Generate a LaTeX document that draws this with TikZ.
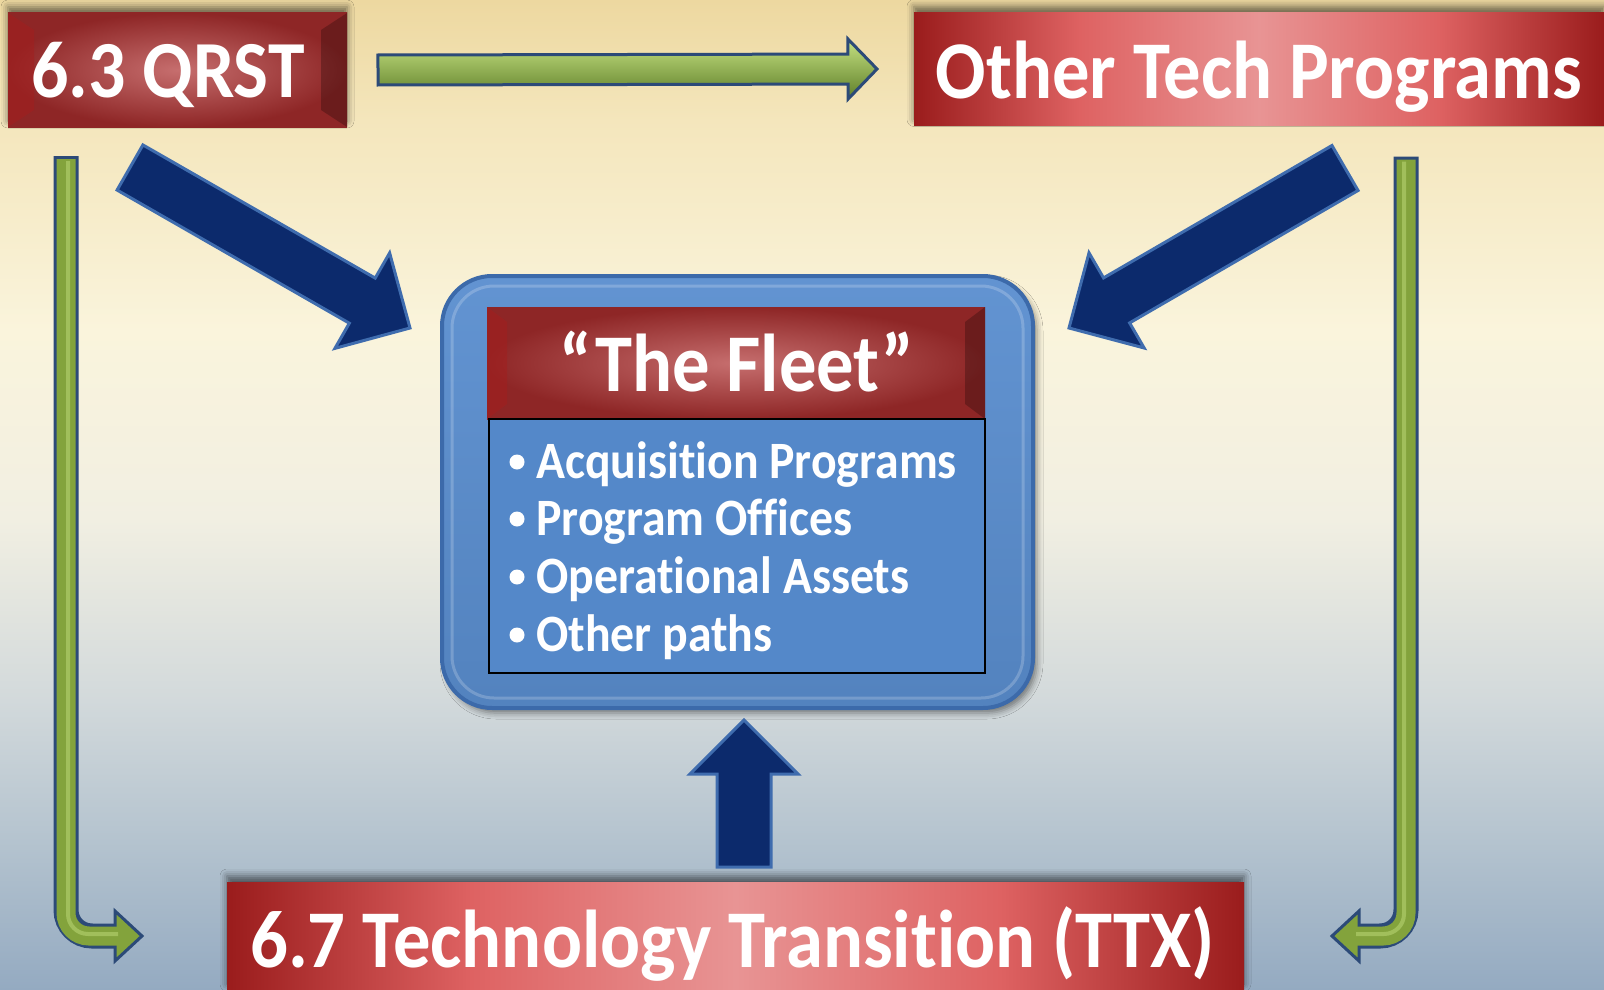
\documentclass[tikz,border=0pt]{standalone}
\usepackage{fontspec}
\setmainfont{Carlito}[FakeStretch=0.91, Ligatures={NoCommon,NoRare,NoContextual}]
\usetikzlibrary{calc,shadows.blur}
\definecolor{bgA}{HTML}{EDD8A0}
\definecolor{bgB}{HTML}{F4E6BC}
\definecolor{bgC}{HTML}{FAF4DC}
\definecolor{bgD}{HTML}{F1EFE2}
\definecolor{bgE}{HTML}{D2D9DB}
\definecolor{bgF}{HTML}{B0C0CD}
\definecolor{bgG}{HTML}{94AAC1}
\definecolor{redE}{HTML}{9A1C1C}
\definecolor{redM}{HTML}{DE6262}
\definecolor{redC}{HTML}{E89494}
\definecolor{bevC}{HTML}{C66E6E}
\definecolor{bevE}{HTML}{8E2626}
\definecolor{navy}{HTML}{0C2A6C}
\definecolor{navyEdge}{HTML}{3F6CAE}
\definecolor{gA}{HTML}{83A33C}
\definecolor{gB}{HTML}{C6E282}
\definecolor{gC}{HTML}{5E7E28}
\definecolor{gEdge}{HTML}{2C4A78}
\definecolor{fleetFrame}{HTML}{5A8ECF}
\definecolor{fleetEdge}{HTML}{3C6AAA}
\definecolor{fleetList}{HTML}{5488C9}
\pgfdeclarehorizontalshading{redbar}{100bp}{color(0bp)=(redE); color(25bp)=(redE); color(37bp)=(redM); color(50bp)=(redC); color(63bp)=(redM); color(75bp)=(redE); color(100bp)=(redE)}
\newcommand\blockarr[6]{%
  \coordinate (#2-hb) at ($(#3)!#6!(#2)$);
  \path[#1] ($(#2)!#4!90:(#3)$) -- ($(#2-hb)!#4!90:(#3)$) -- ($(#2-hb)!#5!90:(#3)$) -- (#3)
    -- ($(#2-hb)!#5!-90:(#3)$) -- ($(#2-hb)!#4!-90:(#3)$) -- ($(#2)!#4!-90:(#3)$) -- cycle;}
\begin{document}
\begin{tikzpicture}[x=1pt,y=-1pt,
  redbar/.style={shading=redbar, inner sep=0pt, outer sep=0pt,
    blur shadow={shadow xshift=0pt, shadow yshift=6pt, shadow blur radius=7pt, shadow opacity=55}},
  bevbox/.style={inner color=bevC, outer color=bevE, inner sep=0pt, outer sep=0pt},
  bigtxt/.style={text=white, inner sep=0pt, anchor=base, font=\bfseries\fontsize{#1}{#1}\selectfont},
  listtxt/.style={text=white, inner sep=0pt, anchor=base west, font=\bfseries\fontsize{52.5}{52.5}\selectfont},
  bluearr/.style={fill=navy, draw=navyEdge, line width=3pt, line join=miter},
  greenarr/.style={top color=gB, middle color=gA, bottom color=gC, draw=gEdge, line width=3pt, line join=miter}]
\useasboundingbox (0,0) rectangle (1604,990);
% background
\shade[top color=bgA, bottom color=bgB] (0,0) rectangle (1604,121);
\shade[top color=bgB, bottom color=bgC] (0,120) rectangle (1604,331);
\shade[top color=bgC, bottom color=bgD] (0,330) rectangle (1604,521);
\shade[top color=bgD, bottom color=bgE] (0,520) rectangle (1604,701);
\shade[top color=bgE, bottom color=bgF] (0,700) rectangle (1604,861);
\shade[top color=bgF, bottom color=bgG] (0,860) rectangle (1604,990);
% boxes
\node[bevbox, blur shadow={shadow xshift=0pt, shadow yshift=6pt, shadow blur radius=7pt, shadow opacity=55},
  minimum width=339pt, minimum height=114pt] (qrst) at (177.5,70) {};
\fill[bevE!80!red, opacity=.5] (8,13) -- (34,30) -- (34,110) -- (8,127) -- cycle;
\fill[black!80!bevE, opacity=.3] (347,13) -- (321,30) -- (321,110) -- (347,127) -- cycle;
\node[redbar, minimum width=690pt, minimum height=113pt] (other) at (1259,69) {};
\node[redbar, minimum width=1017pt, minimum height=108pt] (ttx) at (735.5,936) {};
% fleet
\node[draw=fleetEdge, line width=4pt, top color=fleetFrame!95!white, bottom color=fleetFrame!92!black,
  rounded corners=50pt, minimum width=591pt, minimum height=432pt, inner sep=0pt,
  blur shadow={shadow xshift=4pt, shadow yshift=-5pt, shadow blur radius=6pt, shadow opacity=45}] (fleet) at (737.5,492) {};
\draw[white, opacity=.2, line width=3pt, rounded corners=42pt] (452,286) rectangle (1023,698);
\node[bevbox, minimum width=498pt, minimum height=112pt] (fhead) at (736,363) {};
\fill[bevE!80!red, opacity=.5] (487,307) -- (507,322) -- (507,404) -- (487,419) -- cycle;
\fill[black!80!bevE, opacity=.3] (985,307) -- (965,322) -- (965,404) -- (985,419) -- cycle;
\node[fill=fleetList, draw=black, line width=2pt, minimum width=496pt, minimum height=254pt, inner sep=0pt] (flist) at (737,546) {};
% texts
\node[bigtxt=81] (qrstT) at (168,97) {6.3 QRST};
\node[bigtxt=82] (otherT) at (1259,99) {Other Tech Programs};
\node[bigtxt=82] (fleetT) at (737,391) {“The Fleet”};
\node[bigtxt=82] (ttxT) at (732.5,967) {6.7 Technology Transition (TTX)};
\foreach \t/\y [count=\i] in {Acquisition Programs/478, Program Offices/535, Operational Assets/593, Other paths/651}{
  \node[listtxt] (item\i) at (536,\y) {\t};
  \fill[white] (517,\y-16) circle (7.5pt);
}
% top green arrow
\coordinate (ga) at ($(qrst.east)+(31,0)$);
\coordinate (gb) at ($(other.west)+(-37,0)$);
\blockarr{greenarr}{ga}{gb}{15pt}{30pt}{29pt}
% blue diagonal arrows
\coordinate (la) at ($(qrst.south)+(-47.5,40.5)$);
\coordinate (lb) at ($(fleet.north west)+(-30,54)$);
\blockarr{bluearr}{la}{lb}{26pt}{55pt}{55pt}
\coordinate (ra) at ($(other.south)+(86,42.5)$);
\coordinate (rb) at ($(fleet.north east)+(34,54)$);
\blockarr{bluearr}{ra}{rb}{26pt}{55pt}{55pt}
% up arrow
\coordinate (ua) at ($(ttx.north)+(8.5,-15)$);
\coordinate (ub) at ($(fleet.south)+(6.5,10)$);
\blockarr{bluearr}{ua}{ub}{27pt}{54pt}{54pt}
% left L arrow
\coordinate (ls) at ($(qrst.south)+(-111.5,29)$);
\coordinate (lt) at ($(ttx.west)+(-85,0)$);
\draw[gEdge, line width=25pt, rounded corners=26pt] (ls) |- ($(lt)+(-26,0)$);
\filldraw[fill=gA, draw=gEdge, line width=3pt, line join=miter] ($(lt)+(-27,-25)$) -- (lt) -- ($(lt)+(-27,25)$) -- cycle;
\draw[gA, line width=19pt, rounded corners=23pt] ($(ls)+(0,3)$) |- ($(lt)+(-24,0)$);
\draw[gB, opacity=.45, line width=4pt, rounded corners=20pt] ($(ls)+(2,5)$) |- ($(lt)+(-24,-2)$);
% right L arrow
\coordinate (rs) at ($(other.south)+(147,31)$);
\coordinate (rt) at ($(ttx.east)+(88,0)$);
\draw[gEdge, line width=25pt, rounded corners=26pt] (rs) |- ($(rt)+(26,0)$);
\filldraw[fill=gA, draw=gEdge, line width=3pt, line join=miter] ($(rt)+(27,-25)$) -- (rt) -- ($(rt)+(27,25)$) -- cycle;
\draw[gA, line width=19pt, rounded corners=23pt] ($(rs)+(0,3)$) |- ($(rt)+(24,0)$);
\draw[gB, opacity=.45, line width=4pt, rounded corners=20pt] ($(rs)+(-2,5)$) |- ($(rt)+(24,-2)$);
\end{tikzpicture}
\end{document}
